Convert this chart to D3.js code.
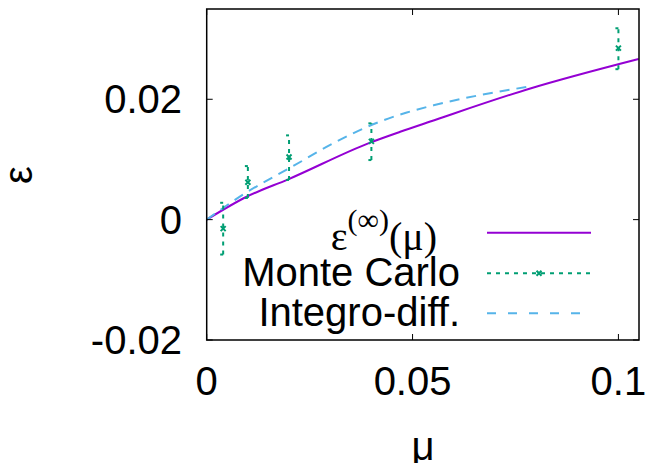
<!DOCTYPE html>
<html>
<head>
<meta charset="utf-8">
<script src="https://cdn.jsdelivr.net/npm/d3@7"></script>
<style>
  body { margin: 0; background: #fff; }
  text { font-family: 'Liberation Sans', Arial, sans-serif; }
</style>
</head>
<body>
<div id="container"></div>
<script>
const w = 648
const h = 463
const margin = { left: 206.7, right: 9, top: 9, bottom: 123 }

// data
const xTicks = [0, 0.05, 0.1]
const yTicks = [-0.02, 0, 0.02]

const theoryMu = [0, 0.0097, 0.0198, 0.0397, 0.047, 0.0543, 0.0786, 0.1049]
const theoryEps = [0, 0.0038, 0.0067, 0.0128, 0.0146, 0.0163, 0.0218, 0.0267]

const mcMu = [0.004, 0.01, 0.02, 0.04, 0.1]
const mcEps = [-0.0015, 0.0062, 0.0104, 0.013, 0.0285]
const mcLo = [-0.0058, 0.0036, 0.0066, 0.0099, 0.025]
const mcHi = [0.0028, 0.0089, 0.014, 0.016, 0.0318]

const intMu = [0, 0.0089, 0.021, 0.0308, 0.0421, 0.0486, 0.0551, 0.0664, 0.0782]
const intEps = [0, 0.0042, 0.0089, 0.0127, 0.0163, 0.0178, 0.019, 0.0207, 0.0221]

const purple = '#9400d3'
const green = '#009e73'
const blue = '#56b4e9'

var svg = d3.select('div#container')
  .append('svg')
  .attr('width', w)
  .attr('height', h)

var x = d3.scaleLinear().domain([0, 0.105]).range([margin.left, w - margin.right])
var y = d3.scaleLinear().domain([-0.02, 0.035]).range([h - margin.bottom, margin.top])
var fmt = d => d3.format('~g')(d).replace('−', '-')

var plot = svg.append('g')

svg.append('clipPath').attr('id', 'clip')
  .append('rect')
  .attr('x', x(0)).attr('y', y(0.035))
  .attr('width', x(0.105) - x(0)).attr('height', y(-0.02) - y(0.035))

var line = d3.line().x(d => x(d[0])).y(d => y(d[1])).curve(d3.curveMonotoneX)

plot.append('path')
  .datum(theoryMu.map((m, i) => [m, theoryEps[i]]))
  .attr('d', line)
  .attr('fill', 'none')
  .attr('stroke', purple)
  .attr('stroke-width', 2)
  .attr('clip-path', 'url(#clip)')

plot.append('path')
  .datum(intMu.map((m, i) => [m, intEps[i]]))
  .attr('d', line)
  .attr('fill', 'none')
  .attr('stroke', blue)
  .attr('stroke-width', 2)
  .attr('stroke-dasharray', '10,7')

// monte carlo error bars + crosses
var mc = plot.selectAll('g.mc')
  .data(mcMu.map((m, i) => ({ m: m, e: mcEps[i], lo: mcLo[i], hi: mcHi[i] })))
  .enter().append('g')
  .attr('class', 'mc')
  .attr('stroke', green)
  .attr('stroke-width', 2)

mc.append('line')
  .attr('x1', d => x(d.m)).attr('x2', d => x(d.m))
  .attr('y1', d => y(d.lo)).attr('y2', d => y(d.hi))
  .attr('stroke-dasharray', '4,5')
mc.append('line')
  .attr('x1', d => x(d.m) - 3).attr('x2', d => x(d.m) + 3)
  .attr('y1', d => y(d.lo)).attr('y2', d => y(d.lo))
  .attr('stroke-dasharray', '3,3')
mc.append('line')
  .attr('x1', d => x(d.m) - 3).attr('x2', d => x(d.m) + 3)
  .attr('y1', d => y(d.hi)).attr('y2', d => y(d.hi))
  .attr('stroke-dasharray', '3,3')

function cross(g, cx, cy) {
  g.append('path')
    .attr('d', 'M' + (cx - 2.5) + ',' + (cy - 2.5) + 'L' + (cx + 2.5) + ',' + (cy + 2.5) +
      'M' + (cx - 2.5) + ',' + (cy + 2.5) + 'L' + (cx + 2.5) + ',' + (cy - 2.5))
    .attr('stroke', green)
    .attr('stroke-width', 2)
}
mc.each(function (d) { cross(d3.select(this), x(d.m), y(d.e)) })

// frame and ticks
svg.append('rect')
  .attr('x', x(0)).attr('y', y(0.035))
  .attr('width', x(0.105) - x(0)).attr('height', y(-0.02) - y(0.035))
  .attr('fill', 'none').attr('stroke', '#000').attr('stroke-width', 1.5)

var ticks = svg.append('g').attr('stroke', '#000').attr('stroke-width', 1)
xTicks.forEach(function (t) {
  ticks.append('line').attr('x1', x(t)).attr('x2', x(t)).attr('y1', y(-0.02)).attr('y2', y(-0.02) - 6)
  ticks.append('line').attr('x1', x(t)).attr('x2', x(t)).attr('y1', y(0.035)).attr('y2', y(0.035) + 6)
})
yTicks.forEach(function (t) {
  ticks.append('line').attr('x1', x(0)).attr('x2', x(0) + 6).attr('y1', y(t)).attr('y2', y(t))
  ticks.append('line').attr('x1', x(0.105)).attr('x2', x(0.105) - 6).attr('y1', y(t)).attr('y2', y(t))
})

svg.append('g').selectAll('text')
  .data(xTicks)
  .enter().append('text')
  .attr('x', d => x(d))
  .attr('y', 395)
  .style('text-anchor', 'middle')
  .style('font-size', '40px')
  .text(fmt)

svg.append('g').selectAll('text')
  .data(yTicks)
  .enter().append('text')
  .attr('x', 182)
  .attr('y', d => y(d) + 14)
  .style('text-anchor', 'end')
  .style('font-size', '40px')
  .text(fmt)

// axis labels
svg.append('text')
  .attr('transform', 'translate(32,175) rotate(-90)')
  .style('text-anchor', 'middle')
  .style('font-size', '40px')
  .text('ε')

svg.append('text')
  .attr('x', 423)
  .attr('y', 460)
  .style('text-anchor', 'middle')
  .style('font-size', '40px')
  .text('μ')

// legend
var legend = svg.append('g')
var rows = [232.7, 273.3, 313.3]
var lx0 = 487
var lx1 = 591

var t0 = legend.append('text')
  .attr('x', 437).attr('y', 250)
  .style('text-anchor', 'end')
  .style('font-size', '40px')
  .style('font-family', "'Liberation Serif', 'Times New Roman', serif")
t0.append('tspan').text('ε')
t0.append('tspan').attr('dy', -20).style('font-size', '30px').text('(∞)')
t0.append('tspan').attr('dy', 20).text('(μ)')

legend.append('text')
  .attr('x', 460).attr('y', rows[1] + 13)
  .style('text-anchor', 'end')
  .style('font-size', '40px')
  .text('Monte Carlo')

legend.append('text')
  .attr('x', 460).attr('y', rows[2] + 13)
  .style('text-anchor', 'end')
  .style('font-size', '40px')
  .text('Integro-diff.')

legend.append('line')
  .attr('x1', lx0).attr('x2', lx1).attr('y1', rows[0]).attr('y2', rows[0])
  .attr('stroke', purple).attr('stroke-width', 2)

legend.append('line')
  .attr('x1', lx0).attr('x2', lx1).attr('y1', rows[1]).attr('y2', rows[1])
  .attr('stroke', green).attr('stroke-width', 2).attr('stroke-dasharray', '4,5')
cross(legend, (lx0 + lx1) / 2, rows[1])

legend.append('line')
  .attr('x1', lx0).attr('x2', lx1).attr('y1', rows[2]).attr('y2', rows[2])
  .attr('stroke', blue).attr('stroke-width', 2).attr('stroke-dasharray', '9,12')
</script>
</body>
</html>
